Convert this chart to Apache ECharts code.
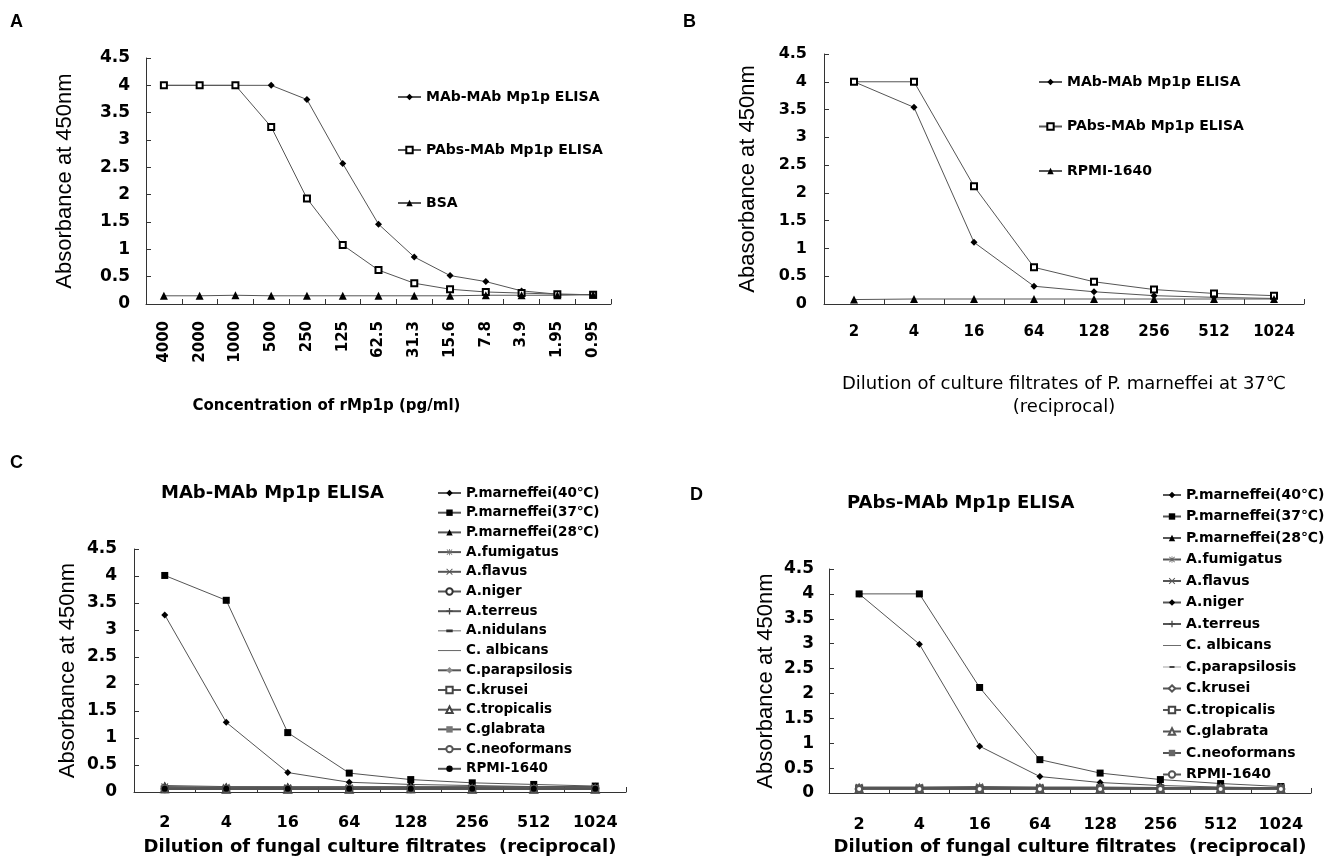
<!DOCTYPE html>
<html>
<head>
<meta charset="utf-8">
<script src="https://cdn.jsdelivr.net/npm/echarts@6/dist/echarts.min.js"></script>
<style>
html,body{margin:0;padding:0;background:#fff;width:1339px;height:857px;overflow:hidden;}
.p{position:absolute;}
</style>
</head>
<body>
<div id="pA" class="p" style="left:0;top:0;width:669px;height:440px"></div>
<div id="pB" class="p" style="left:669px;top:0;width:670px;height:440px"></div>
<div id="pC" class="p" style="left:0;top:440px;width:669px;height:417px"></div>
<div id="pD" class="p" style="left:669px;top:440px;width:670px;height:417px"></div>
<script>
// ---------------- DATA ----------------
const catsA = ['4000','2000','1000','500','250','125','62.5','31.3','15.6','7.8','3.9','1.95','0.95'];
const mabA  = [4, 4, 4, 4, 3.74, 2.57, 1.46, 0.86, 0.52, 0.41, 0.24, 0.18, 0.17];
const pabA  = [4, 4, 4, 3.24, 1.93, 1.08, 0.62, 0.38, 0.27, 0.22, 0.2, 0.18, 0.17];
const bsaA  = [0.15, 0.15, 0.16, 0.15, 0.15, 0.15, 0.15, 0.15, 0.15, 0.16, 0.16, 0.16, 0.17];

const catsDil = ['2','4','16','64','128','256','512','1024'];
const mabB  = [4, 3.54, 1.11, 0.32, 0.22, 0.15, 0.12, 0.1];
const pabB  = [4, 4, 2.12, 0.66, 0.4, 0.26, 0.19, 0.15];
const rpmiB = [0.08, 0.09, 0.09, 0.09, 0.09, 0.09, 0.09, 0.09];

// Panel C (MAb-MAb)
const pm40C = [3.28, 1.29, 0.36, 0.18, 0.14, 0.12, 0.1, 0.1];
const pm37C = [4.01, 3.55, 1.1, 0.35, 0.23, 0.17, 0.14, 0.11];
const pm28C = [0.12, 0.1, 0.1, 0.1, 0.1, 0.1, 0.1, 0.1];
const fumC  = [0.1, 0.09, 0.08, 0.08, 0.08, 0.08, 0.08, 0.08];
const flaC  = [0.09, 0.08, 0.08, 0.07, 0.08, 0.08, 0.07, 0.07];
const nigC  = [0.06, 0.06, 0.06, 0.06, 0.06, 0.06, 0.06, 0.06];
const terC  = [0.07, 0.07, 0.07, 0.07, 0.07, 0.07, 0.07, 0.07];
const nidC  = [0.08, 0.07, 0.07, 0.07, 0.07, 0.07, 0.07, 0.07];
const albC  = [0.05, 0.05, 0.05, 0.05, 0.05, 0.05, 0.05, 0.05];
const parC  = [0.06, 0.06, 0.05, 0.06, 0.06, 0.06, 0.06, 0.06];
const kruC  = [0.05, 0.05, 0.05, 0.05, 0.05, 0.05, 0.05, 0.05];
const troC  = [0.06, 0.05, 0.05, 0.05, 0.06, 0.05, 0.05, 0.05];
const glaC  = [0.07, 0.06, 0.06, 0.07, 0.07, 0.07, 0.07, 0.07];
const neoC  = [0.05, 0.05, 0.05, 0.05, 0.05, 0.05, 0.05, 0.05];
const rpmiC = [0.06, 0.06, 0.06, 0.06, 0.06, 0.06, 0.06, 0.06];

// Panel D (PAbs-MAb)
const pm40D = [4, 2.99, 0.94, 0.33, 0.21, 0.15, 0.12, 0.1];
const pm37D = [4, 4, 2.12, 0.67, 0.4, 0.27, 0.19, 0.13];
const pm28D = [0.1, 0.1, 0.1, 0.1, 0.1, 0.1, 0.1, 0.1];
const fumD  = [0.12, 0.12, 0.13, 0.12, 0.12, 0.11, 0.11, 0.11];
const flaD  = [0.11, 0.11, 0.11, 0.11, 0.11, 0.1, 0.1, 0.1];
const nigD  = [0.1, 0.1, 0.1, 0.1, 0.1, 0.1, 0.1, 0.1];
const terD  = [0.09, 0.09, 0.09, 0.09, 0.09, 0.09, 0.09, 0.09];
const albD  = [0.08, 0.08, 0.08, 0.08, 0.08, 0.08, 0.08, 0.08];
const parD  = [0.09, 0.09, 0.09, 0.09, 0.09, 0.09, 0.09, 0.09];
const kruD  = [0.08, 0.08, 0.08, 0.08, 0.08, 0.08, 0.08, 0.08];
const troD  = [0.09, 0.09, 0.09, 0.09, 0.09, 0.09, 0.09, 0.09];
const glaD  = [0.08, 0.08, 0.08, 0.08, 0.08, 0.08, 0.08, 0.08];
const neoD  = [0.09, 0.09, 0.09, 0.09, 0.09, 0.09, 0.09, 0.09];
const rpmiD = [0.08, 0.08, 0.08, 0.08, 0.08, 0.08, 0.08, 0.08];

const namesC = ['P.marneffei(40℃)','P.marneffei(37℃)','P.marneffei(28℃)','A.fumigatus','A.flavus','A.niger','A.terreus','A.nidulans','C. albicans','C.parapsilosis','C.krusei','C.tropicalis','C.glabrata','C.neoformans','RPMI-1640'];
const namesD = ['P.marneffei(40℃)','P.marneffei(37℃)','P.marneffei(28℃)','A.fumigatus','A.flavus','A.niger','A.terreus','C. albicans','C.parapsilosis','C.krusei','C.tropicalis','C.glabrata','C.neoformans','RPMI-1640'];

// ---------------- STYLE ----------------
const BF = 'DejaVu Sans';
const RF = 'Liberation Sans';
const SYM = {
  plus: 'path://M4,0H6V4H10V6H6V10H4V6H0V4H4Z',
  cross: 'path://M0,1L1,0L5,4L9,0L10,1L6,5L10,9L9,10L5,6L1,10L0,9L4,5Z',
  star: 'path://M4.4,0H5.6V4.4H10V5.6H5.6V10H4.4V5.6H0V4.4H4.4ZM0.5,1.3L1.3,0.5L5,4.2L8.7,0.5L9.5,1.3L5.8,5L9.5,8.7L8.7,9.5L5,5.8L1.3,9.5L0.5,8.7L4.2,5Z',
  dash: 'path://M0,0H10V2H0Z'
};
// custom legend icons (line only / line + dash)
const ICON = {
  lineOnly: 'path://M0,0H25V1H0Z',
  lineDash: 'path://M0,1.6H25V2.4H0ZM9,0.5H16V3.5H9Z'
};

function line(name, data, symbol, size, color, lineColor) {
  const c = color || '#000';
  const empty = typeof symbol === 'string' && symbol.indexOf('empty') === 0;
  return {
    name: name, type: 'line', data: data,
    symbol: symbol, symbolSize: size, showAllSymbol: true,
    lineStyle: { color: lineColor || '#555', width: 1 },
    itemStyle: { color: c, borderColor: c, borderWidth: empty ? 1 : 0 },
    emphasis: { disabled: true }
  };
}

function grid(left, top, width, height) {
  return { left: left, top: top, width: width, height: height, containLabel: false, outerBoundsMode: 'none' };
}

function axes(cfg) {
  const axisCol = '#333';
  return {
    xAxis: {
      type: 'category', data: cfg.cats, boundaryGap: true,
      axisLine: { lineStyle: { color: axisCol, width: 1 } },
      axisTick: { show: true, inside: true, length: 5, lineStyle: { color: axisCol } },
      axisLabel: Object.assign({ interval: 0, color: '#000', fontFamily: BF, fontWeight: 'bold' }, cfg.xLabel),
      splitLine: { show: false },
      name: cfg.xName, nameLocation: 'middle', nameGap: cfg.xNameGap, nameMoveOverlap: false,
      nameTextStyle: Object.assign({ color: '#000' }, cfg.xNameStyle)
    },
    yAxis: {
      type: 'value', min: 0, max: 4.5, interval: 0.5,
      axisLine: { show: true, lineStyle: { color: axisCol, width: 1 } },
      axisTick: { show: true, inside: true, length: 5, lineStyle: { color: axisCol } },
      axisLabel: Object.assign({ color: '#000', fontFamily: BF, fontWeight: 'bold' }, cfg.yLabel),
      splitLine: { show: false },
      name: cfg.yName, nameLocation: 'middle', nameGap: cfg.yNameGap, nameRotate: 90, nameMoveOverlap: false,
      nameTextStyle: { color: '#000', fontFamily: RF, fontSize: 22 }
    }
  };
}

function legend(cfg) {
  const data = cfg.names.map((n, i) => (cfg.icons && cfg.icons[i]) ? { name: n, icon: cfg.icons[i] } : n);
  return {
    orient: 'vertical', left: cfg.left, top: cfg.top, itemGap: cfg.gap,
    itemWidth: cfg.w, itemHeight: 8, selectedMode: false, data: data,
    textStyle: { color: '#000', fontFamily: BF, fontWeight: 'bold', fontSize: cfg.fs, lineHeight: 16 }
  };
}

function letter(t, left, top) {
  return { text: t, left: left, top: top, padding: 0,
    textStyle: { color: '#000', fontFamily: RF, fontWeight: 'bold', fontSize: 18 } };
}

// ---------------- PANEL A ----------------
const optA = Object.assign({
  animation: false, backgroundColor: '#fff',
  title: [letter('A', 10, 13)],
  grid: grid(146, 58, 465, 246),
  legend: legend({ left: 392, top: 84, gap: 37, w: 23, fs: 14,
    names: ['MAb-MAb Mp1p ELISA', 'PAbs-MAb Mp1p ELISA', 'BSA'] }),
  series: [
    line('MAb-MAb Mp1p ELISA', mabA, 'diamond', 7),
    line('PAbs-MAb Mp1p ELISA', pabA, 'emptyRect', 6),
    line('BSA', bsaA, 'triangle', 8)
  ]
}, axes({
  cats: catsA,
  xLabel: { fontSize: 15, rotate: 90, margin: 17 },
  yLabel: { fontSize: 17, margin: 16 },
  xName: 'Concentration of rMp1p (pg/ml)', xNameGap: 95,
  xNameStyle: { fontFamily: BF, fontWeight: 'bold', fontSize: 15, padding: [0, 104, 0, 0] },
  yName: 'Absorbance at 450nm', yNameGap: 70
}));

// ---------------- PANEL B ----------------
const optB = Object.assign({
  animation: false, backgroundColor: '#fff',
  title: [letter('B', 14, 13)],
  grid: grid(155, 54, 480, 250),
  legend: legend({ left: 364, top: 69, gap: 28.5, w: 23, fs: 14,
    names: ['MAb-MAb Mp1p ELISA', 'PAbs-MAb Mp1p ELISA', 'RPMI-1640'] }),
  series: [
    line('MAb-MAb Mp1p ELISA', mabB, 'diamond', 7),
    line('PAbs-MAb Mp1p ELISA', pabB, 'emptyRect', 6),
    line('RPMI-1640', rpmiB, 'triangle', 8)
  ]
}, axes({
  cats: catsDil,
  xLabel: { fontSize: 15, margin: 21 },
  yLabel: { fontSize: 16, margin: 17 },
  xName: 'Dilution of culture filtrates of P. marneffei at 37℃\n(reciprocal)', xNameGap: 69,
  xNameStyle: { fontFamily: BF, fontSize: 18, lineHeight: 23 },
  yName: 'Abasorbance at 450nm', yNameGap: 65
}));

// ---------------- PANEL C ----------------
const styleC = [
  ['diamond', 7, '#000'], ['rect', 7, '#000'], ['triangle', 8, '#000'],
  [SYM.star, 8, '#666'], [SYM.cross, 7, '#555'], ['emptyCircle', 6, '#333'],
  [SYM.plus, 8, '#444'], [SYM.dash, [6, 2], '#333'], ['none', 1, '#555'],
  ['diamond', 5, '#888'], ['emptyRect', 6, '#444'], ['emptyTriangle', 7, '#444'],
  ['rect', 6, '#777'], ['emptyCircle', 6, '#555'], ['circle', 6, '#000']
];
const iconsC = [null, null, null, null, null, null, null, ICON.lineDash, ICON.lineOnly, null, null, null, null, null, null];
const dataC = [pm40C, pm37C, pm28C, fumC, flaC, nigC, terC, nidC, albC, parC, kruC, troC, glaC, neoC, rpmiC];
const optC = Object.assign({
  animation: false, backgroundColor: '#fff',
  title: [letter('C', 10, 14),
    { text: 'MAb-MAb Mp1p ELISA', left: 161, top: 44, padding: 0,
      textStyle: { color: '#000', fontFamily: BF, fontWeight: 'bold', fontSize: 18 } }],
  grid: grid(134, 109, 492, 243),
  legend: legend({ left: 432, top: 40, gap: 3.7, w: 23, fs: 13.5, names: namesC, icons: iconsC }),
  series: namesC.map((n, i) => line(n, dataC[i], styleC[i][0], styleC[i][1], styleC[i][2]))
}, axes({
  cats: catsDil,
  xLabel: { fontSize: 16, margin: 23 },
  yLabel: { fontSize: 17, margin: 17 },
  xName: 'Dilution of fungal culture filtrates  (reciprocal)', xNameGap: 46,
  xNameStyle: { fontFamily: BF, fontWeight: 'bold', fontSize: 18 },
  yName: 'Absorbance at 450nm', yNameGap: 55
}));

// ---------------- PANEL D ----------------
const styleD = [
  ['diamond', 7, '#000'], ['rect', 7, '#000'], ['triangle', 8, '#000'],
  [SYM.star, 8, '#666'], [SYM.cross, 7, '#555'], ['diamond', 6, '#000'],
  [SYM.plus, 8, '#444'], ['none', 1, '#333'], [SYM.dash, [6, 2], '#444'],
  ['emptyDiamond', 7, '#555'], ['emptyRect', 6, '#444'], ['emptyTriangle', 7, '#555'],
  ['rect', 6, '#666'], ['emptyCircle', 6, '#555']
];
const iconsD = [null, null, null, null, null, null, null, ICON.lineOnly, ICON.lineDash, null, null, null, null, null];
const dataD = [pm40D, pm37D, pm28D, fumD, flaD, nigD, terD, albD, parD, kruD, troD, glaD, neoD, rpmiD];
const optD = Object.assign({
  animation: false, backgroundColor: '#fff',
  title: [letter('D', 21, 46),
    { text: 'PAbs-MAb Mp1p ELISA', left: 178, top: 54, padding: 0,
      textStyle: { color: '#000', fontFamily: BF, fontWeight: 'bold', fontSize: 18 } }],
  grid: grid(160, 129, 482, 224),
  legend: legend({ left: 488, top: 42, gap: 5.5, w: 18, fs: 14, names: namesD, icons: iconsD }),
  series: namesD.map((n, i) => line(n, dataD[i], styleD[i][0], styleD[i][1], styleD[i][2]))
}, axes({
  cats: catsDil,
  xLabel: { fontSize: 16, margin: 24 },
  yLabel: { fontSize: 17, margin: 15 },
  xName: 'Dilution of fungal culture filtrates  (reciprocal)', xNameGap: 45,
  xNameStyle: { fontFamily: BF, fontWeight: 'bold', fontSize: 18 },
  yName: 'Absorbance at 450nm', yNameGap: 52
}));

[['pA', optA], ['pB', optB], ['pC', optC], ['pD', optD]].forEach(([id, opt]) => {
  const ch = echarts.init(document.getElementById(id), null, { renderer: 'canvas' });
  ch.setOption(opt);
});
</script>
</body>
</html>
